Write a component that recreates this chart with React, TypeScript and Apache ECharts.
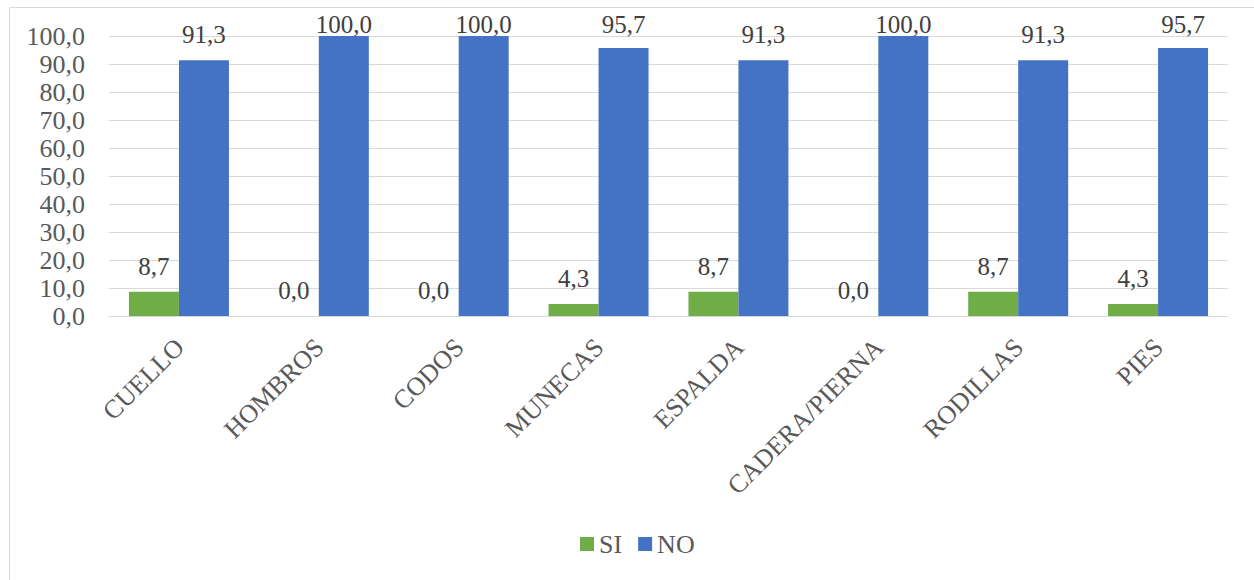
import React, { useEffect, useRef } from "react";
import * as echarts from "echarts";

const categories = ["CUELLO", "HOMBROS", "CODOS", "MUNECAS", "ESPALDA", "CADERA/PIERNA", "RODILLAS", "PIES"];
const siValues = [8.7, 0.0, 0.0, 4.3, 8.7, 0.0, 8.7, 4.3];
const noValues = [91.3, 100.0, 100.0, 95.7, 91.3, 100.0, 91.3, 95.7];
const seriesNames = ["SI", "NO"];
const yMin = 0;
const yMax = 100;
const yStep = 10;

const FONT = "Liberation Serif";
const GRID_TOP = 36;
const GRID_BOTTOM = 264;
const PLOT_H = 580 - GRID_TOP - GRID_BOTTOM;

const fmt = (v: number) => v.toFixed(1).replace(".", ",");

const mkData = (vals: number[]) =>
  vals.map((v) => {
    const room = ((yMax - v) / (yMax - yMin)) * PLOT_H;
    return { value: v, label: { distance: Math.min(13, room - 1) } };
  });

export default function App() {
  const ref = useRef<HTMLDivElement>(null);
  useEffect(() => {
    if (!ref.current) return;
    const chart = echarts.init(ref.current, null, { renderer: "svg" });
    const labelCommon = {
      show: true,
      position: "top",
      fontFamily: FONT,
      fontSize: 25,
      color: "#404040",
      formatter: (p: any) => fmt(p.value),
    };
    chart.setOption({
      animation: false,
      backgroundColor: "#ffffff",
      textStyle: { fontFamily: FONT, fontSize: 26 },
      graphic: [
        {
          type: "rect",
          z: -10,
          silent: true,
          shape: { x: 9.5, y: 7.5, width: 1300, height: 620 },
          style: { fill: "none", stroke: "#d9d9d9", lineWidth: 1 },
        },
      ],
      grid: { left: 109, right: 26, top: GRID_TOP, bottom: GRID_BOTTOM, containLabel: false },
      legend: {
        data: seriesNames,
        left: 575,
        top: 526,
        icon: "rect",
        itemWidth: 14,
        itemHeight: 14,
        itemGap: 16,
        textStyle: { fontFamily: FONT, fontSize: 26, color: "#595959" },
      },
      xAxis: {
        type: "category",
        data: categories,
        axisTick: { show: false },
        axisLine: { show: true, lineStyle: { color: "#d9d9d9", width: 1 } },
        axisLabel: {
          rotate: 45,
          interval: 0,
          margin: 22,
          fontFamily: FONT,
          fontSize: 26,
          color: "#595959",
          verticalAlign: "top",
          padding: [-9, 3, 0, 0],
        },
      },
      yAxis: {
        type: "value",
        min: yMin,
        max: yMax,
        interval: yStep,
        axisLine: { show: false },
        axisTick: { show: false },
        splitLine: { lineStyle: { color: "#d9d9d9", width: 1 } },
        axisLabel: {
          margin: 24,
          fontFamily: FONT,
          fontSize: 26,
          color: "#595959",
          formatter: (v: number) => fmt(v),
        },
      },
      series: [
        {
          name: seriesNames[0],
          type: "bar",
          data: mkData(siValues),
          barWidth: 50,
          barGap: "0%",
          itemStyle: { color: "#70AD47" },
          label: labelCommon,
        },
        {
          name: seriesNames[1],
          type: "bar",
          data: mkData(noValues),
          barWidth: 50,
          barGap: "0%",
          itemStyle: { color: "#4472C4" },
          label: labelCommon,
        },
      ],
    });
    return () => chart.dispose();
  }, []);
  return (
    <div
      ref={ref}
      style={{ position: "absolute", left: 0, top: 0, width: 1254, height: 580 }}
    />
  );
}
